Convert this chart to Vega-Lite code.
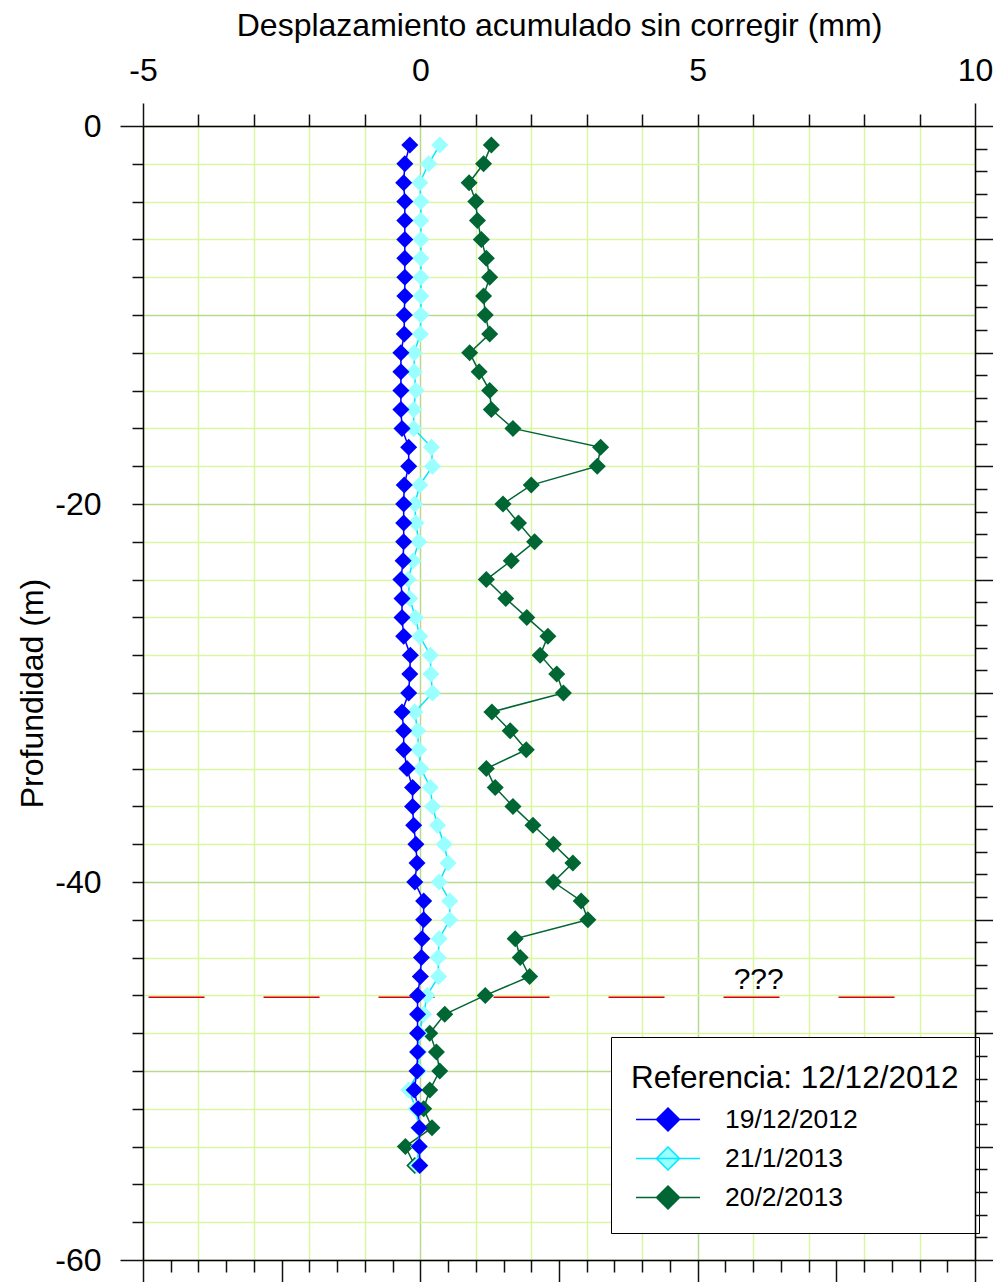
{
  "$schema": "https://vega.github.io/schema/vega-lite/v6.json",
  "width": 832,
  "height": 1134,
  "autosize": {"type": "none"},
  "padding": {"left": 143, "top": 126, "right": 18, "bottom": 22},
  "background": "white",
  "config": {
    "view": {"stroke": null},
    "font": "Liberation Sans",
    "axis": {
      "domainColor": "black",
      "domainWidth": 1.5,
      "tickColor": "#111111",
      "tickWidth": 1.5,
      "labelFont": "Liberation Sans",
      "labelFontSize": 32,
      "labelColor": "black",
      "titleFont": "Liberation Sans",
      "titleFontSize": 32,
      "titleFontWeight": "normal",
      "titleColor": "black",
      "labelOverlap": false,
      "labelFlush": false,
      "labelBound": false
    }
  },
  "datasets": {
    "series": [
      {"fecha": "20/2/2013", "prof": -1, "desp": 1.28},
      {"fecha": "20/2/2013", "prof": -2, "desp": 1.14},
      {"fecha": "20/2/2013", "prof": -3, "desp": 0.88},
      {"fecha": "20/2/2013", "prof": -4, "desp": 1.00},
      {"fecha": "20/2/2013", "prof": -5, "desp": 1.03},
      {"fecha": "20/2/2013", "prof": -6, "desp": 1.10},
      {"fecha": "20/2/2013", "prof": -7, "desp": 1.19},
      {"fecha": "20/2/2013", "prof": -8, "desp": 1.25},
      {"fecha": "20/2/2013", "prof": -9, "desp": 1.14},
      {"fecha": "20/2/2013", "prof": -10, "desp": 1.17},
      {"fecha": "20/2/2013", "prof": -11, "desp": 1.25},
      {"fecha": "20/2/2013", "prof": -12, "desp": 0.89},
      {"fecha": "20/2/2013", "prof": -13, "desp": 1.06},
      {"fecha": "20/2/2013", "prof": -14, "desp": 1.25},
      {"fecha": "20/2/2013", "prof": -15, "desp": 1.28},
      {"fecha": "20/2/2013", "prof": -16, "desp": 1.67},
      {"fecha": "20/2/2013", "prof": -17, "desp": 3.25},
      {"fecha": "20/2/2013", "prof": -18, "desp": 3.19},
      {"fecha": "20/2/2013", "prof": -19, "desp": 2.00},
      {"fecha": "20/2/2013", "prof": -20, "desp": 1.49},
      {"fecha": "20/2/2013", "prof": -21, "desp": 1.77},
      {"fecha": "20/2/2013", "prof": -22, "desp": 2.06},
      {"fecha": "20/2/2013", "prof": -23, "desp": 1.64},
      {"fecha": "20/2/2013", "prof": -24, "desp": 1.19},
      {"fecha": "20/2/2013", "prof": -25, "desp": 1.54},
      {"fecha": "20/2/2013", "prof": -26, "desp": 1.92},
      {"fecha": "20/2/2013", "prof": -27, "desp": 2.30},
      {"fecha": "20/2/2013", "prof": -28, "desp": 2.16},
      {"fecha": "20/2/2013", "prof": -29, "desp": 2.46},
      {"fecha": "20/2/2013", "prof": -30, "desp": 2.58},
      {"fecha": "20/2/2013", "prof": -31, "desp": 1.29},
      {"fecha": "20/2/2013", "prof": -32, "desp": 1.62},
      {"fecha": "20/2/2013", "prof": -33, "desp": 1.91},
      {"fecha": "20/2/2013", "prof": -34, "desp": 1.19},
      {"fecha": "20/2/2013", "prof": -35, "desp": 1.35},
      {"fecha": "20/2/2013", "prof": -36, "desp": 1.67},
      {"fecha": "20/2/2013", "prof": -37, "desp": 2.03},
      {"fecha": "20/2/2013", "prof": -38, "desp": 2.40},
      {"fecha": "20/2/2013", "prof": -39, "desp": 2.75},
      {"fecha": "20/2/2013", "prof": -40, "desp": 2.40},
      {"fecha": "20/2/2013", "prof": -41, "desp": 2.90},
      {"fecha": "20/2/2013", "prof": -42, "desp": 3.02},
      {"fecha": "20/2/2013", "prof": -43, "desp": 1.71},
      {"fecha": "20/2/2013", "prof": -44, "desp": 1.80},
      {"fecha": "20/2/2013", "prof": -45, "desp": 1.97},
      {"fecha": "20/2/2013", "prof": -46, "desp": 1.17},
      {"fecha": "20/2/2013", "prof": -47, "desp": 0.44},
      {"fecha": "20/2/2013", "prof": -48, "desp": 0.17},
      {"fecha": "20/2/2013", "prof": -49, "desp": 0.29},
      {"fecha": "20/2/2013", "prof": -50, "desp": 0.35},
      {"fecha": "20/2/2013", "prof": -51, "desp": 0.17},
      {"fecha": "20/2/2013", "prof": -52, "desp": 0.06},
      {"fecha": "20/2/2013", "prof": -53, "desp": 0.21},
      {"fecha": "20/2/2013", "prof": -54, "desp": -0.27},
      {"fecha": "20/2/2013", "prof": -55, "desp": -0.10},
      {"fecha": "21/1/2013", "prof": -1, "desp": 0.35},
      {"fecha": "21/1/2013", "prof": -2, "desp": 0.15},
      {"fecha": "21/1/2013", "prof": -3, "desp": -0.01},
      {"fecha": "21/1/2013", "prof": -4, "desp": 0.01},
      {"fecha": "21/1/2013", "prof": -5, "desp": 0.01},
      {"fecha": "21/1/2013", "prof": -6, "desp": 0.01},
      {"fecha": "21/1/2013", "prof": -7, "desp": 0.01},
      {"fecha": "21/1/2013", "prof": -8, "desp": 0.01},
      {"fecha": "21/1/2013", "prof": -9, "desp": 0.01},
      {"fecha": "21/1/2013", "prof": -10, "desp": 0.01},
      {"fecha": "21/1/2013", "prof": -11, "desp": 0.00},
      {"fecha": "21/1/2013", "prof": -12, "desp": -0.11},
      {"fecha": "21/1/2013", "prof": -13, "desp": -0.11},
      {"fecha": "21/1/2013", "prof": -14, "desp": -0.08},
      {"fecha": "21/1/2013", "prof": -15, "desp": -0.12},
      {"fecha": "21/1/2013", "prof": -16, "desp": -0.12},
      {"fecha": "21/1/2013", "prof": -17, "desp": 0.20},
      {"fecha": "21/1/2013", "prof": -18, "desp": 0.22},
      {"fecha": "21/1/2013", "prof": -19, "desp": -0.01},
      {"fecha": "21/1/2013", "prof": -20, "desp": -0.10},
      {"fecha": "21/1/2013", "prof": -21, "desp": -0.08},
      {"fecha": "21/1/2013", "prof": -22, "desp": -0.03},
      {"fecha": "21/1/2013", "prof": -23, "desp": -0.13},
      {"fecha": "21/1/2013", "prof": -24, "desp": -0.22},
      {"fecha": "21/1/2013", "prof": -25, "desp": -0.19},
      {"fecha": "21/1/2013", "prof": -26, "desp": -0.09},
      {"fecha": "21/1/2013", "prof": -27, "desp": -0.01},
      {"fecha": "21/1/2013", "prof": -28, "desp": 0.18},
      {"fecha": "21/1/2013", "prof": -29, "desp": 0.19},
      {"fecha": "21/1/2013", "prof": -30, "desp": 0.22},
      {"fecha": "21/1/2013", "prof": -31, "desp": -0.10},
      {"fecha": "21/1/2013", "prof": -32, "desp": -0.05},
      {"fecha": "21/1/2013", "prof": -33, "desp": -0.03},
      {"fecha": "21/1/2013", "prof": -34, "desp": 0.01},
      {"fecha": "21/1/2013", "prof": -35, "desp": 0.18},
      {"fecha": "21/1/2013", "prof": -36, "desp": 0.22},
      {"fecha": "21/1/2013", "prof": -37, "desp": 0.31},
      {"fecha": "21/1/2013", "prof": -38, "desp": 0.43},
      {"fecha": "21/1/2013", "prof": -39, "desp": 0.50},
      {"fecha": "21/1/2013", "prof": -40, "desp": 0.34},
      {"fecha": "21/1/2013", "prof": -41, "desp": 0.53},
      {"fecha": "21/1/2013", "prof": -42, "desp": 0.53},
      {"fecha": "21/1/2013", "prof": -43, "desp": 0.34},
      {"fecha": "21/1/2013", "prof": -44, "desp": 0.32},
      {"fecha": "21/1/2013", "prof": -45, "desp": 0.33},
      {"fecha": "21/1/2013", "prof": -46, "desp": 0.12},
      {"fecha": "21/1/2013", "prof": -47, "desp": 0.06},
      {"fecha": "21/1/2013", "prof": -48, "desp": -0.02},
      {"fecha": "21/1/2013", "prof": -49, "desp": -0.03},
      {"fecha": "21/1/2013", "prof": -50, "desp": -0.03},
      {"fecha": "21/1/2013", "prof": -51, "desp": -0.21},
      {"fecha": "21/1/2013", "prof": -52, "desp": -0.08},
      {"fecha": "21/1/2013", "prof": -53, "desp": -0.03},
      {"fecha": "21/1/2013", "prof": -54, "desp": -0.03},
      {"fecha": "21/1/2013", "prof": -55, "desp": -0.06},
      {"fecha": "19/12/2012", "prof": -1, "desp": -0.19},
      {"fecha": "19/12/2012", "prof": -2, "desp": -0.28},
      {"fecha": "19/12/2012", "prof": -3, "desp": -0.30},
      {"fecha": "19/12/2012", "prof": -4, "desp": -0.28},
      {"fecha": "19/12/2012", "prof": -5, "desp": -0.28},
      {"fecha": "19/12/2012", "prof": -6, "desp": -0.28},
      {"fecha": "19/12/2012", "prof": -7, "desp": -0.28},
      {"fecha": "19/12/2012", "prof": -8, "desp": -0.28},
      {"fecha": "19/12/2012", "prof": -9, "desp": -0.28},
      {"fecha": "19/12/2012", "prof": -10, "desp": -0.29},
      {"fecha": "19/12/2012", "prof": -11, "desp": -0.29},
      {"fecha": "19/12/2012", "prof": -12, "desp": -0.35},
      {"fecha": "19/12/2012", "prof": -13, "desp": -0.35},
      {"fecha": "19/12/2012", "prof": -14, "desp": -0.35},
      {"fecha": "19/12/2012", "prof": -15, "desp": -0.35},
      {"fecha": "19/12/2012", "prof": -16, "desp": -0.33},
      {"fecha": "19/12/2012", "prof": -17, "desp": -0.21},
      {"fecha": "19/12/2012", "prof": -18, "desp": -0.21},
      {"fecha": "19/12/2012", "prof": -19, "desp": -0.29},
      {"fecha": "19/12/2012", "prof": -20, "desp": -0.30},
      {"fecha": "19/12/2012", "prof": -21, "desp": -0.30},
      {"fecha": "19/12/2012", "prof": -22, "desp": -0.30},
      {"fecha": "19/12/2012", "prof": -23, "desp": -0.31},
      {"fecha": "19/12/2012", "prof": -24, "desp": -0.35},
      {"fecha": "19/12/2012", "prof": -25, "desp": -0.33},
      {"fecha": "19/12/2012", "prof": -26, "desp": -0.33},
      {"fecha": "19/12/2012", "prof": -27, "desp": -0.30},
      {"fecha": "19/12/2012", "prof": -28, "desp": -0.18},
      {"fecha": "19/12/2012", "prof": -29, "desp": -0.19},
      {"fecha": "19/12/2012", "prof": -30, "desp": -0.21},
      {"fecha": "19/12/2012", "prof": -31, "desp": -0.33},
      {"fecha": "19/12/2012", "prof": -32, "desp": -0.30},
      {"fecha": "19/12/2012", "prof": -33, "desp": -0.30},
      {"fecha": "19/12/2012", "prof": -34, "desp": -0.24},
      {"fecha": "19/12/2012", "prof": -35, "desp": -0.14},
      {"fecha": "19/12/2012", "prof": -36, "desp": -0.14},
      {"fecha": "19/12/2012", "prof": -37, "desp": -0.12},
      {"fecha": "19/12/2012", "prof": -38, "desp": -0.08},
      {"fecha": "19/12/2012", "prof": -39, "desp": -0.06},
      {"fecha": "19/12/2012", "prof": -40, "desp": -0.10},
      {"fecha": "19/12/2012", "prof": -41, "desp": 0.06},
      {"fecha": "19/12/2012", "prof": -42, "desp": 0.06},
      {"fecha": "19/12/2012", "prof": -43, "desp": 0.03},
      {"fecha": "19/12/2012", "prof": -44, "desp": 0.02},
      {"fecha": "19/12/2012", "prof": -45, "desp": 0.00},
      {"fecha": "19/12/2012", "prof": -46, "desp": -0.05},
      {"fecha": "19/12/2012", "prof": -47, "desp": -0.05},
      {"fecha": "19/12/2012", "prof": -48, "desp": -0.05},
      {"fecha": "19/12/2012", "prof": -49, "desp": -0.05},
      {"fecha": "19/12/2012", "prof": -50, "desp": -0.06},
      {"fecha": "19/12/2012", "prof": -51, "desp": -0.11},
      {"fecha": "19/12/2012", "prof": -52, "desp": -0.04},
      {"fecha": "19/12/2012", "prof": -53, "desp": -0.02},
      {"fecha": "19/12/2012", "prof": -54, "desp": -0.02},
      {"fecha": "19/12/2012", "prof": -55, "desp": -0.01}
    ],
    "linea": [{"x": -4.9, "x2": 9, "prof": -46.1}],
    "marca": [{"x": 6.1, "prof": -45.66, "texto": "???"}]
  },
  "layer": [
    {
      "data": {"name": "linea"},
      "mark": {"type": "rule", "color": "#dd0000", "strokeWidth": 1.5, "strokeDash": [56, 59]},
      "encoding": {
        "x": {
          "field": "x", "type": "quantitative",
          "scale": {"domain": [-5, 10], "nice": false, "zero": false},
          "axis": {
            "orient": "bottom",
            "values": [-5, -4.5, -4, -3.5, -3, -2.5, -2, -1.5, -1, -0.5, 0, 0.5, 1, 1.5, 2, 2.5, 3, 3.5, 4, 4.5, 5, 5.5, 6, 6.5, 7, 7.5, 8, 8.5, 9, 9.5, 10],
            "labels": false,
            "grid": false,
            "title": null,
            "tickSize": {"condition": {"test": "datum.value % 2.5 === 0", "value": 22}, "value": 12}
          }
        },
        "x2": {"field": "x2"},
        "y": {
          "field": "prof", "type": "quantitative",
          "scale": {"domain": [-60, 0], "nice": false, "zero": false},
          "axis": {
            "orient": "right",
            "values": [0, -1.2, -2.4, -3.6, -4.8, -6, -7.2, -8.4, -9.6, -10.8, -12, -13.2, -14.4, -15.6, -16.8, -18, -19.2, -20.4, -21.6, -22.8, -24, -25.2, -26.4, -27.6, -28.8, -30, -31.2, -32.4, -33.6, -34.8, -36, -37.2, -38.4, -39.6, -40.8, -42, -43.2, -44.4, -45.6, -46.8, -48, -49.2, -50.4, -51.6, -52.8, -54, -55.2, -56.4, -57.6, -58.8, -60],
            "labels": false,
            "grid": false,
            "title": null,
            "zindex": 1,
            "tickSize": {"condition": {"test": "datum.value % 6 === 0", "value": 18}, "value": 12}
          }
        }
      }
    },
    {
      "data": {"name": "series"},
      "encoding": {
        "x": {
          "field": "desp", "type": "quantitative",
          "scale": {"domain": [-5, 10], "nice": false, "zero": false},
          "axis": {
            "orient": "top",
            "values": [-5, -4, -3, -2, -1, 0, 1, 2, 3, 4, 5, 6, 7, 8, 9, 10],
            "labelExpr": "datum.value % 5 === 0 ? '' + datum.value : ''",
            "tickSize": {"condition": {"test": "datum.value === -5 || datum.value === 10", "value": 23}, "value": 12},
            "labelPadding": {"condition": {"test": "datum.value === -5 || datum.value === 10", "value": 16}, "value": 27},
            "grid": true,
            "gridWidth": 1.5,
            "gridColor": {"condition": {"test": "datum.value % 5 === 0", "value": "#b8d98f"}, "value": "#dcf5a5"},
            "title": "Desplazamiento acumulado sin corregir (mm)",
            "titlePadding": 12
          }
        },
        "y": {
          "field": "prof", "type": "quantitative",
          "scale": {"domain": [-60, 0], "nice": false, "zero": false},
          "axis": {
            "orient": "left",
            "values": [0, -2, -4, -6, -8, -10, -12, -14, -16, -18, -20, -22, -24, -26, -28, -30, -32, -34, -36, -38, -40, -42, -44, -46, -48, -50, -52, -54, -56, -58, -60],
            "labelExpr": "datum.value % 20 === 0 ? '' + datum.value : ''",
            "tickSize": {"condition": {"test": "datum.value === 0 || datum.value === -60", "value": 23}, "value": 11},
            "labelPadding": {"condition": {"test": "datum.value === 0 || datum.value === -60", "value": 19}, "value": 31},
            "grid": true,
            "gridWidth": 1.5,
            "gridColor": {"condition": {"test": "datum.value % 10 === 0", "value": "#b8d98f"}, "value": "#dcf5a5"},
            "title": "Profundidad (m)",
            "titlePadding": 5
          }
        }
      },
      "layer": [
        {
          "mark": {"type": "line", "strokeWidth": 1.5},
          "encoding": {
            "stroke": {
              "field": "fecha", "type": "nominal",
              "scale": {"domain": ["19/12/2012", "21/1/2013", "20/2/2013"], "range": ["#0000ff", "#00e8ff", "#006633"]},
              "legend": {
                "title": "Referencia: 12/12/2012", "orient": "none", "legendX": 468, "legendY": 911,
                "padding": 20, "strokeColor": "black", "fillColor": "white",
                "titleFont": "Liberation Sans", "titleFontSize": 31.5, "titleFontWeight": "normal", "titleColor": "black",
                "titleLimit": 500, "titleBaseline": "line-top", "titleLineHeight": 43, "titlePadding": 16,
                "labelFont": "Liberation Sans", "labelFontSize": 26.5, "labelColor": "black", "labelLimit": 300,
                "symbolType": "M-1,0H1M0,-0.36L0.36,0L0,0.36L-0.36,0Z", "symbolSize": 4096, "symbolStrokeWidth": 1.5,
                "clipHeight": 30, "rowPadding": 9, "labelOffset": 24, "symbolOffset": 4, "zindex": 0,
                "encode": {"symbols": {"update": {"fill": {"scale": "fill", "field": "value"}, "stroke": {"scale": "stroke", "field": "value"}, "opacity": {"value": 1}}}}
              }
            },
            "order": {"field": "prof", "sort": "descending"}
          }
        },
        {
          "mark": {"type": "point", "shape": "diamond", "filled": true, "size": 290, "opacity": 1, "strokeWidth": 0},
          "encoding": {
            "fill": {
              "field": "fecha", "type": "nominal",
              "scale": {"domain": ["19/12/2012", "21/1/2013", "20/2/2013"], "range": ["#0000ff", "#99ffff", "#006633"]},
              "legend": {
                "title": "Referencia: 12/12/2012", "orient": "none", "legendX": 468, "legendY": 911,
                "padding": 20, "strokeColor": "black", "fillColor": "white",
                "titleFont": "Liberation Sans", "titleFontSize": 31.5, "titleFontWeight": "normal", "titleColor": "black",
                "titleLimit": 500, "titleBaseline": "line-top", "titleLineHeight": 43, "titlePadding": 16,
                "labelFont": "Liberation Sans", "labelFontSize": 26.5, "labelColor": "black", "labelLimit": 300,
                "symbolType": "M-1,0H1M0,-0.36L0.36,0L0,0.36L-0.36,0Z", "symbolSize": 4096, "symbolStrokeWidth": 1.5,
                "clipHeight": 30, "rowPadding": 9, "labelOffset": 24, "symbolOffset": 4, "zindex": 0,
                "encode": {"symbols": {"update": {"fill": {"scale": "fill", "field": "value"}, "stroke": {"scale": "stroke", "field": "value"}, "opacity": {"value": 1}}}}
              }
            }
          }
        }
      ]
    },
    {
      "data": {"name": "marca"},
      "mark": {"type": "text", "fontSize": 30, "align": "center", "baseline": "alphabetic", "color": "black", "font": "Liberation Sans"},
      "encoding": {
        "x": {"field": "x", "type": "quantitative", "scale": {"domain": [-5, 10], "nice": false, "zero": false}, "axis": null},
        "y": {"field": "prof", "type": "quantitative", "scale": {"domain": [-60, 0], "nice": false, "zero": false}, "axis": null},
        "text": {"field": "texto"}
      }
    }
  ],
  "resolve": {"axis": {"x": "independent", "y": "independent"}}
}
